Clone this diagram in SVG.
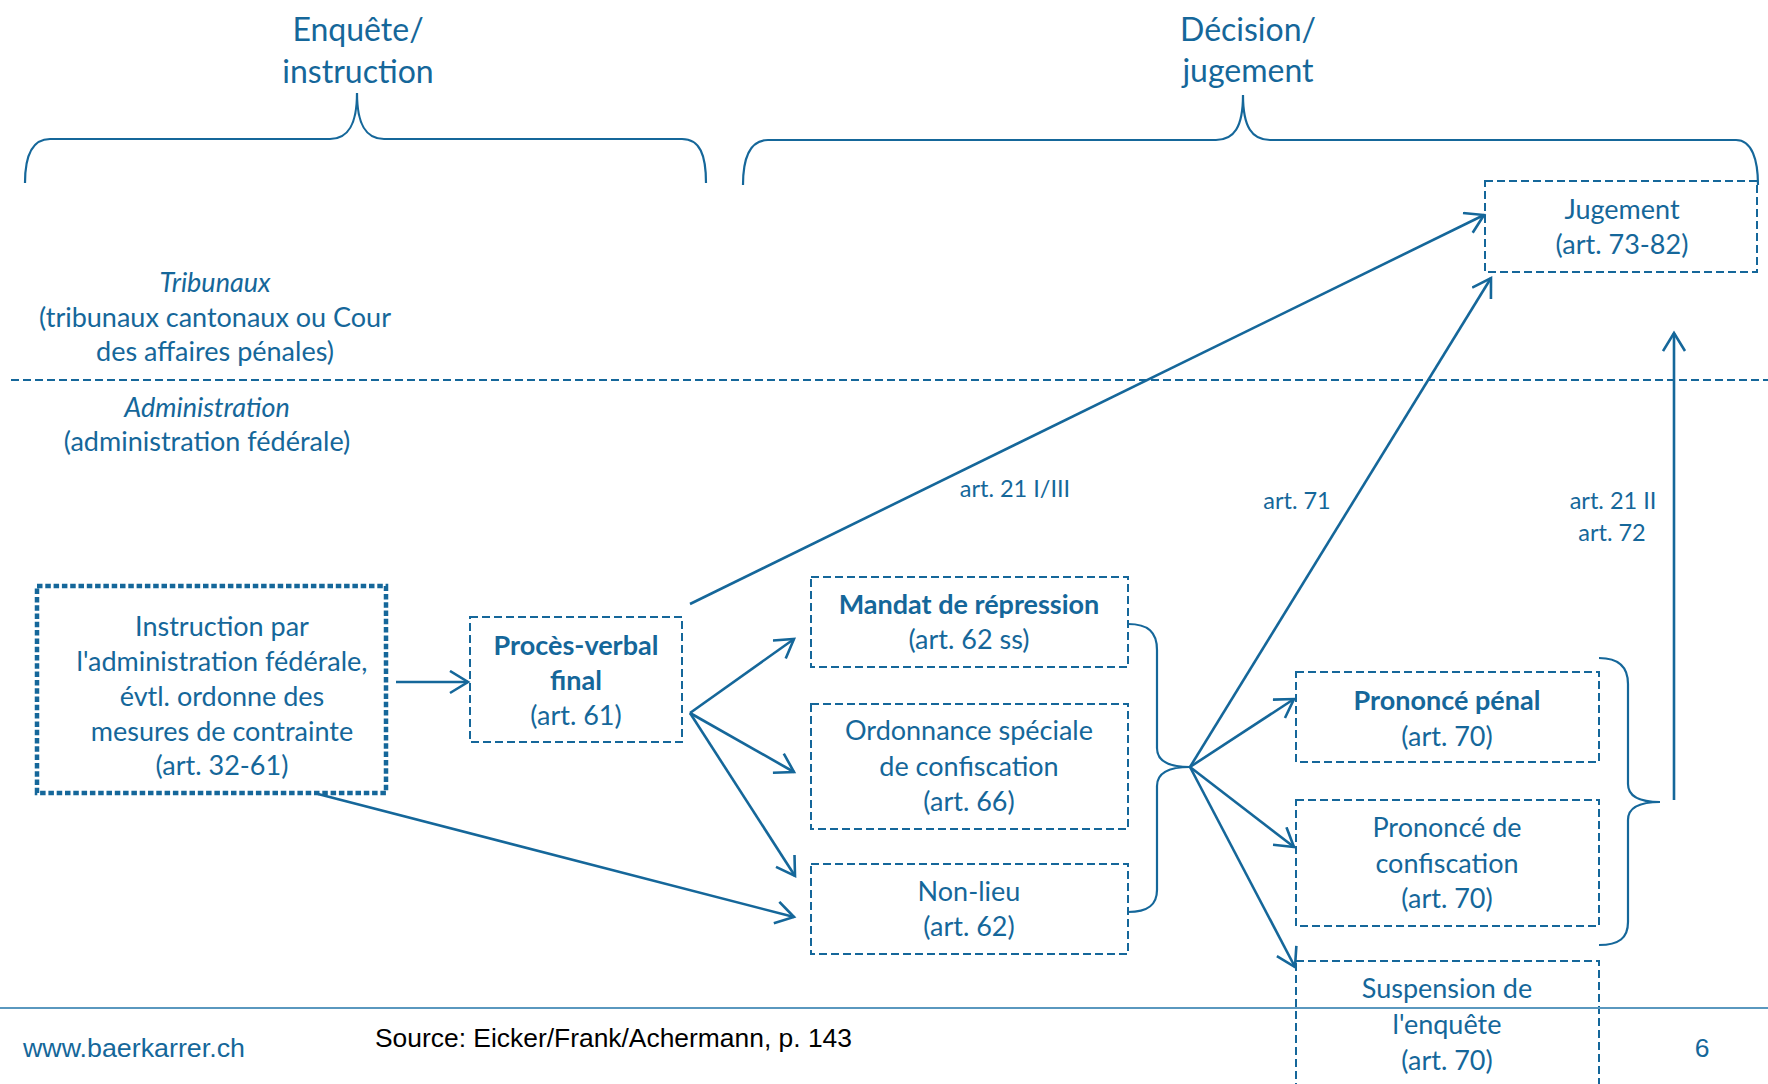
<svg xmlns="http://www.w3.org/2000/svg" width="1768" height="1084" viewBox="0 0 1768 1084">
<style>
  .t { font-family: Lato, "Open Sans", "Liberation Sans", sans-serif; fill: #15679a; text-anchor: middle; }
  .h { font-size: 32px; }
  .b { font-size: 27px; }
  .bold { font-weight: bold; }
  .it { font-style: italic; }
  .lbl { font-size: 23.5px; }
  .box { fill: none; stroke: #15679a; stroke-width: 2; stroke-dasharray: 8 4; }
  .dot { fill: none; stroke: #15679a; stroke-width: 4.5; stroke-dasharray: 5.5 2.8; }
  .brace { fill: none; stroke: #15679a; stroke-width: 2.2; }
  .con { fill: none; stroke: #15679a; stroke-width: 2.6; marker-end: url(#arr); }
  .foot { font-family: "Liberation Sans", Arial, sans-serif; font-size: 26.5px; }
</style>
<defs>
  <marker id="arr" markerUnits="userSpaceOnUse" markerWidth="24" markerHeight="26" refX="20" refY="12" orient="auto" viewBox="0 0 24 26">
    <path d="M2,1 L20,12 L2,23" fill="none" stroke="#15679a" stroke-width="2.6" stroke-linejoin="miter"/>
  </marker>
</defs>
<rect width="1768" height="1084" fill="#ffffff"/>

<g id="phase-enquete">
  <path class="brace" d="M25,183 C25,155 32,139 50,139 L330,139 C348,139 357,125 357,93 C357,125 366,139 384,139 L682,139 C700,139 706,155 706,183"/>
  <text class="t h" x="358" y="41">Enquête/</text>
  <text class="t h" x="358" y="83">instruction</text>
</g>

<g id="phase-decision">
  <path class="brace" d="M743,185 C743,157 750,140 768,140 L1216,140 C1234,140 1243,127 1243,95 C1243,127 1252,140 1270,140 L1736,140 C1752,140 1758,160 1758,185"/>
  <text class="t h" x="1248" y="41">Décision/</text>
  <text class="t h" x="1248" y="82">jugement</text>
</g>

<g id="zones">
  <text class="t b it" x="215" y="292">Tribunaux</text>
  <text class="t b" x="215" y="327">(tribunaux cantonaux ou Cour</text>
  <text class="t b" x="215" y="361">des affaires pénales)</text>
  <line x1="11" y1="380" x2="1768" y2="380" stroke="#15679a" stroke-width="2" stroke-dasharray="8 4"/>
  <text class="t b it" x="207" y="417">Administration</text>
  <text class="t b" x="207" y="451">(administration fédérale)</text>
</g>

<g id="instruction">
  <rect class="dot" x="37" y="586" width="349" height="207"/>
  <text class="t b" x="222" y="636">Instruction par</text>
  <text class="t b" x="222" y="671">l'administration fédérale,</text>
  <text class="t b" x="222" y="706">évtl. ordonne des</text>
  <text class="t b" x="222" y="741">mesures de contrainte</text>
  <text class="t b" x="222" y="775">(art. 32-61)</text>
</g>

<g id="proces-verbal">
  <rect class="box" x="470" y="617" width="212" height="125"/>
  <text class="t b bold" x="576" y="655">Procès-verbal</text>
  <text class="t b bold" x="576" y="690">final</text>
  <text class="t b" x="576" y="725">(art. 61)</text>
</g>

<g id="mandat">
  <rect class="box" x="811" y="577" width="317" height="90"/>
  <text class="t b bold" x="969" y="614">Mandat de répression</text>
  <text class="t b" x="969" y="649">(art. 62 ss)</text>
</g>

<g id="ordonnance">
  <rect class="box" x="811" y="704" width="317" height="125"/>
  <text class="t b" x="969" y="740">Ordonnance spéciale</text>
  <text class="t b" x="969" y="776">de confiscation</text>
  <text class="t b" x="969" y="811">(art. 66)</text>
</g>

<g id="non-lieu">
  <rect class="box" x="811" y="864" width="317" height="90"/>
  <text class="t b" x="969" y="901">Non-lieu</text>
  <text class="t b" x="969" y="936">(art. 62)</text>
</g>

<g id="brace-decisions">
  <path class="brace" d="M1128,624 C1148,624 1157,632 1157,650 L1157,748 C1157,760 1168,767 1190,767 C1168,767 1157,774 1157,786 L1157,890 C1157,905 1148,912 1128,912"/>
</g>

<g id="jugement">
  <rect class="box" x="1485" y="181" width="272" height="91"/>
  <text class="t b" x="1622" y="219">Jugement</text>
  <text class="t b" x="1622" y="254">(art. 73-82)</text>
</g>

<g id="prononce-penal">
  <rect class="box" x="1296" y="672" width="303" height="90"/>
  <text class="t b bold" x="1447" y="710">Prononcé pénal</text>
  <text class="t b" x="1447" y="746">(art. 70)</text>
</g>

<g id="prononce-confiscation">
  <rect class="box" x="1296" y="800" width="303" height="126"/>
  <text class="t b" x="1447" y="837">Prononcé de</text>
  <text class="t b" x="1447" y="873">confiscation</text>
  <text class="t b" x="1447" y="908">(art. 70)</text>
</g>

<g id="suspension">
  <rect class="box" x="1296" y="961" width="303" height="140"/>
  <text class="t b" x="1447" y="998">Suspension de</text>
  <text class="t b" x="1447" y="1034">l'enquête</text>
  <text class="t b" x="1447" y="1070">(art. 70)</text>
</g>

<g id="brace-prononces">
  <path class="brace" d="M1599,658 C1619,658 1628,667 1628,684 L1628,784 C1628,796 1638,802 1660,802 C1638,802 1628,808 1628,820 L1628,922 C1628,938 1619,945 1599,945"/>
</g>

<g id="connectors">
  <line class="con" x1="396" y1="682" x2="468" y2="682"/>
  <line class="con" x1="690" y1="604" x2="1484" y2="215"/>
  <line class="con" x1="690" y1="713" x2="794" y2="639"/>
  <line class="con" x1="690" y1="713" x2="794" y2="772"/>
  <line class="con" x1="690" y1="713" x2="795" y2="876"/>
  <line class="con" x1="318" y1="794" x2="794" y2="917"/>
  <line class="con" x1="1190" y1="767" x2="1491" y2="278"/>
  <line class="con" x1="1190" y1="767" x2="1294" y2="699"/>
  <line class="con" x1="1190" y1="767" x2="1294" y2="847"/>
  <line class="con" x1="1190" y1="767" x2="1295" y2="967"/>
  <line class="con" x1="1674" y1="800" x2="1674" y2="333"/>
  <text class="t lbl" x="1015" y="497">art. 21 I/III</text>
  <text class="t lbl" x="1297" y="509">art. 71</text>
  <text class="t lbl" x="1613" y="509">art. 21 II</text>
  <text class="t lbl" x="1612" y="541">art. 72</text>
</g>

<g id="footer">
  <line x1="0" y1="1008" x2="1768" y2="1008" stroke="#5a98bf" stroke-width="2"/>
  <text class="foot" x="23" y="1057" fill="#15679a" textLength="222" lengthAdjust="spacingAndGlyphs">www.baerkarrer.ch</text>
  <text class="foot" x="375" y="1047" fill="#000000" textLength="477" lengthAdjust="spacingAndGlyphs">Source: Eicker/Frank/Achermann, p. 143</text>
  <text class="foot" x="1702" y="1057" fill="#15679a" text-anchor="middle">6</text>
</g>
</svg>
